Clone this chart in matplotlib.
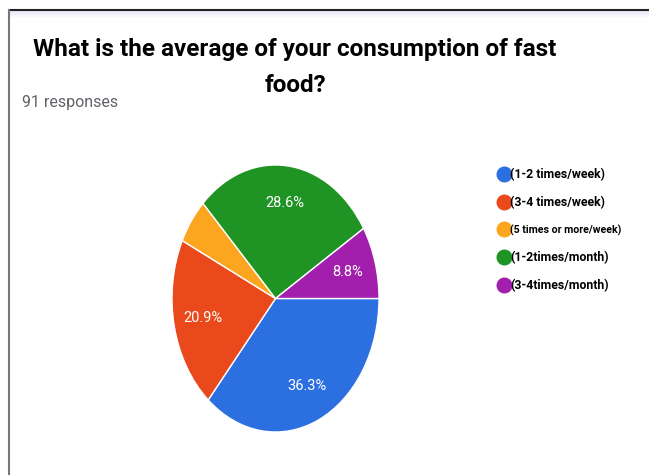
import matplotlib.pyplot as plt
from matplotlib.lines import Line2D
from matplotlib.patches import Rectangle

W, H = 649, 475

labels = ['(1-2 times/week)', '(3-4 times/week)', '(5 times or more/week)',
          '(1-2times/month)', '(3-4times/month)']
counts = [33, 19, 5, 26, 8]
colors = ['#2c6fe0', '#ea4a1b', '#fca51e', '#1f9424', '#a21fae']

title = 'What is the average of your consumption of fast\nfood?'
subtitle = '91 responses'


def pct_label(p):
    # small slices get no label
    return f'{p:.1f}%' if p >= 6 else ''


fig = plt.figure(figsize=(W / 100, H / 100), dpi=100)
fig.patch.set_facecolor('white')

# pie is squashed into an ellipse: centre and radii in pixels
cx, cy, rx, ry = 275.5, 298.5, 103.5, 133.5
ax = fig.add_axes([(cx - rx) / W, (H - cy - ry) / H, 2 * rx / W, 2 * ry / H])
wedges, texts, autotexts = ax.pie(
    counts, colors=colors, startangle=0, counterclock=False,
    autopct=pct_label, pctdistance=0.72,
    wedgeprops=dict(edgecolor='white', linewidth=1),
    textprops=dict(color='white', fontsize=10.5, family='Roboto'))
ax.set_aspect('auto')
ax.set_xlim(-1, 1)
ax.set_ylim(-1, 1)
for w in wedges:
    w.set_clip_on(False)

handles = [Line2D([], [], marker='o', linestyle='none', markersize=10.5,
                  markerfacecolor=c, markeredgecolor=c) for c in colors]
leg = fig.legend(handles, labels, loc='upper left',
                 bbox_to_anchor=(500 / W, 1 - 168 / H), frameon=False,
                 handlelength=0.7, handletextpad=0.15, labelspacing=1.24,
                 borderpad=0, borderaxespad=0,
                 prop=dict(family='Roboto', weight='bold', size=8.8))
leg.get_texts()[2].set_fontsize(7.6)

# card edges and faint shadow under the top edge
for i in range(8):
    fig.add_artist(Rectangle((9 / W, 1 - (11 + i) / H), 1, 1 / H,
                             transform=fig.transFigure, color='#cfc9ee',
                             alpha=0.5 * (1 - i / 8), lw=0))
fig.add_artist(Line2D([9 / W, 1], [1 - 9.5 / H] * 2, color='#222222', lw=1.5,
                      transform=fig.transFigure))
fig.add_artist(Line2D([9 / W, 9 / W], [0, 1 - 9.5 / H], color='#777777', lw=1.5,
                      transform=fig.transFigure))

fig.text(295 / W, 1 - 38 / H, title, ha='center', va='top',
         multialignment='center', fontsize=17.5, weight='bold',
         family='Roboto', linespacing=1.7)
fig.text(22 / W, 1 - 103 / H, subtitle, ha='left', va='center',
         fontsize=11.5, color='#5f6368', family='Roboto')

fig.savefig('out.png', dpi=100)
